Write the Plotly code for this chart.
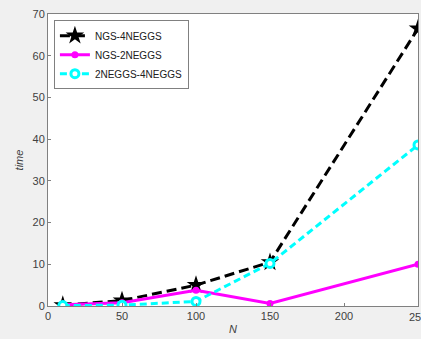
import plotly.graph_objects as go

N = [10, 50, 100, 150, 250]
ngs_4neggs = [0.2, 1.3, 5.0, 10.5, 66.5]
ngs_2neggs = [0.3, 0.8, 3.8, 0.6, 10.0]
neggs2_4neggs = [0.1, 0.2, 1.1, 10.2, 38.6]
x_ticks = [0, 50, 100, 150, 200, 250]
y_ticks = [0, 10, 20, 30, 40, 50, 60, 70]

fig = go.Figure()
fig.add_trace(go.Scatter(x=N, y=ngs_4neggs, name="NGS-4NEGGS", mode="lines+markers",
                         line=dict(color="black", width=3, dash="10px,5px"),
                         marker=dict(symbol="star", size=14, color="black")))
fig.add_trace(go.Scatter(x=N, y=ngs_2neggs, name="NGS-2NEGGS", mode="lines+markers",
                         line=dict(color="#ff00ff", width=3),
                         marker=dict(symbol="circle", size=7, color="#ff00ff")))
fig.add_trace(go.Scatter(x=N, y=neggs2_4neggs, name="2NEGGS-4NEGGS", mode="lines+markers",
                         line=dict(color="#00ffff", width=3, dash="7px,4px"),
                         marker=dict(symbol="circle", size=8, color="white",
                                     line=dict(color="#00ffff", width=3))))

tick_font = dict(family="Liberation Sans, Arial", size=11, color="#404040")
axis_common = dict(showline=True, linecolor="#808080", linewidth=1, mirror=True,
                   ticks="inside", ticklen=3, tickcolor="#808080", showgrid=False,
                   zeroline=False, automargin=False, tickfont=tick_font)
fig.update_layout(
    width=421, height=339,
    margin=dict(l=48, r=3, t=14, b=33),
    paper_bgcolor="#f0f0f0", plot_bgcolor="white",
    font=dict(family="Liberation Sans, Arial", size=11, color="#404040"),
    xaxis=dict(range=[0, 250], tickvals=x_ticks,
               ticktext=[str(t) for t in x_ticks[:-1]] + [""],
               title=dict(text="<i>N</i>", standoff=4, font=dict(size=11)), **axis_common),
    yaxis=dict(range=[0, 70], tickvals=y_ticks,
               title=dict(text="<i>time</i>", standoff=6, font=dict(size=11)), **axis_common),
    legend=dict(x=0.016, y=0.979, xanchor="left", yanchor="top", bgcolor="white",
                bordercolor="#808080", borderwidth=1, font=dict(size=10, color="#202020"),
                tracegroupgap=0, itemwidth=30),
    showlegend=True,
)
# last x tick label (clipped by the figure edge as in the reference)
fig.add_annotation(x=x_ticks[-1], xref="x", y=0, yref="paper", yanchor="top",
                   yshift=-3, text=str(x_ticks[-1]), showarrow=False, font=tick_font)
fig.write_html("out.html")
